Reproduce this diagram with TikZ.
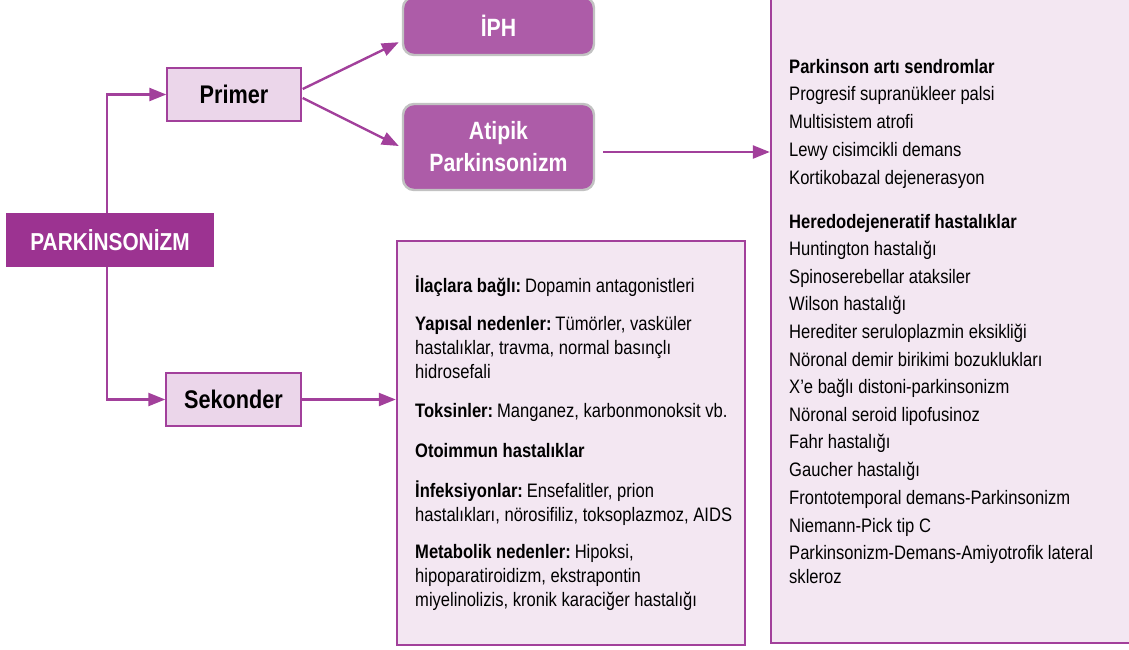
\documentclass[tikz,border=0pt]{standalone}
\usepackage{fontspec}
\setmainfont{Liberation Sans}[FakeStretch=0.85]
\usetikzlibrary{arrows.meta,calc}
\definecolor{plum}{HTML}{9C3391}
\definecolor{orchid}{HTML}{AD5CA8}
\definecolor{lilac}{HTML}{EBD6EA}
\definecolor{blush}{HTML}{F3E7F2}
\definecolor{edge}{HTML}{A2409B}
\definecolor{rim}{HTML}{C2C2C2}
\begin{document}
\begin{tikzpicture}[x=1pt,y=-1pt,
  link/.style={draw=edge,line width=2.4pt,-{Triangle[length=17pt,width=13pt]}},
  rootbox/.style={fill=plum,draw=none,inner sep=0pt,text=white,font=\fontsize{24.5}{29}\selectfont\bfseries},
  branchbox/.style={fill=lilac,draw=edge,line width=1.4pt,inner sep=0pt,font=\fontsize{25.5}{30}\selectfont\bfseries},
  typebox/.style={fill=orchid,draw=rim,line width=2.4pt,rounded corners=11pt,inner sep=0pt,text=white,align=center,font=\fontsize{25}{32}\selectfont\bfseries},
  listbox/.style={fill=blush,draw=edge,line width=2.4pt,inner sep=0pt},
  item/.style={anchor=base west,inner sep=0pt,font=\fontsize{19.5}{24}\selectfont}
]
\useasboundingbox (0,0) rectangle (1129,649);

% main boxes
\node[rootbox,minimum width=208pt,minimum height=54pt] (pk) at (110,240) {PARKİNSONİZM};
\node[branchbox,minimum width=134pt,minimum height=53pt] (primer) at (234,94.5) {Primer};
\node[branchbox,minimum width=135pt,minimum height=53pt] (sek) at (233.5,399.5) {Sekonder};
\node[typebox,minimum width=191pt,minimum height=58pt] (iph) at (498.5,26) {İPH};
\node[typebox,minimum width=191pt,minimum height=86pt] (atp) at (498.5,147) {Atipik\\Parkinsonizm};
\node[listbox,minimum width=348pt,minimum height=404pt] (sec) at (571,443) {};
\node[listbox,minimum width=369pt,minimum height=653pt] (rb) at (955.5,316.5) {};

% connectors
\draw[link] ($(pk.north)+(-3,0)$) |- (primer.west);
\draw[link] ($(pk.south)+(-3,0)$) |- (sek.west);
\draw[link] ($(primer.east)+(1,-5.5)$) -- ($(iph.south west)+(-3,-14)$);
\draw[link] ($(primer.east)+(1,3.5)$) -- ($(atp.west)+(-3,-1)$);
\coordinate (aout) at ($(atp.east)+(8,5)$);
\draw[link] (aout) -- (rb.west |- aout);
\draw[link] (sek.east) -- (sec.west |- sek.east);

% secondary causes
\node[item] (s1) at (415,292.5) {\textbf{İlaçlara bağlı:}\hspace{0.2em}Dopamin antagonistleri};
\node[item] (s2) at (415,330.5) {\textbf{Yapısal nedenler:}\hspace{0.2em}Tümörler, vasküler};
\node[item] (s3) at (415,354.5) {hastalıklar, travma, normal basınçlı};
\node[item] (s4) at (415,378.5) {hidrosefali};
\node[item] (s5) at (415,417) {\textbf{Toksinler:}\hspace{0.2em}Manganez, karbonmonoksit vb.};
\node[item] (s6) at (415,457) {\textbf{Otoimmun hastalıklar}};
\node[item] (s7) at (415,497) {\textbf{İnfeksiyonlar:}\hspace{0.2em}Ensefalitler, prion};
\node[item] (s8) at (415,521) {hastalıkları, nörosifiliz, toksoplazmoz, AIDS};
\node[item] (s9) at (415,558.5) {\textbf{Metabolik nedenler:}\hspace{0.2em}Hipoksi,};
\node[item] (s10) at (415,582.5) {hipoparatiroidizm, ekstrapontin};
\node[item] (s11) at (415,606.5) {miyelinolizis, kronik karaciğer hastalığı};

% atypical parkinsonism
\node[item] (r1) at (789,73) {\textbf{Parkinson artı sendromlar}};
\node[item] (r2) at (789,100.5) {Progresif supranükleer palsi};
\node[item] (r3) at (789,128) {Multisistem atrofi};
\node[item] (r4) at (789,156) {Lewy cisimcikli demans};
\node[item] (r5) at (789,184) {Kortikobazal dejenerasyon};
\node[item] (r6) at (789,228) {\textbf{Heredodejeneratif hastalıklar}};
\node[item] (r7) at (789,255.5) {Huntington hastalığı};
\node[item] (r8) at (789,283) {Spinoserebellar ataksiler};
\node[item] (r9) at (789,310.5) {Wilson hastalığı};
\node[item] (r10) at (789,338) {Herediter seruloplazmin eksikliği};
\node[item] (r11) at (789,366) {Nöronal demir birikimi bozuklukları};
\node[item] (r12) at (789,393.5) {X’e bağlı distoni-parkinsonizm};
\node[item] (r13) at (789,421) {Nöronal seroid lipofusinoz};
\node[item] (r14) at (789,448.5) {Fahr hastalığı};
\node[item] (r15) at (789,476) {Gaucher hastalığı};
\node[item] (r16) at (789,504) {Frontotemporal demans-Parkinsonizm};
\node[item] (r17) at (789,532) {Niemann-Pick tip C};
\node[item] (r18) at (789,559.5) {Parkinsonizm-Demans-Amiyotrofik lateral};
\node[item] (r19) at (789,583.5) {skleroz};
\end{tikzpicture}
\end{document}
